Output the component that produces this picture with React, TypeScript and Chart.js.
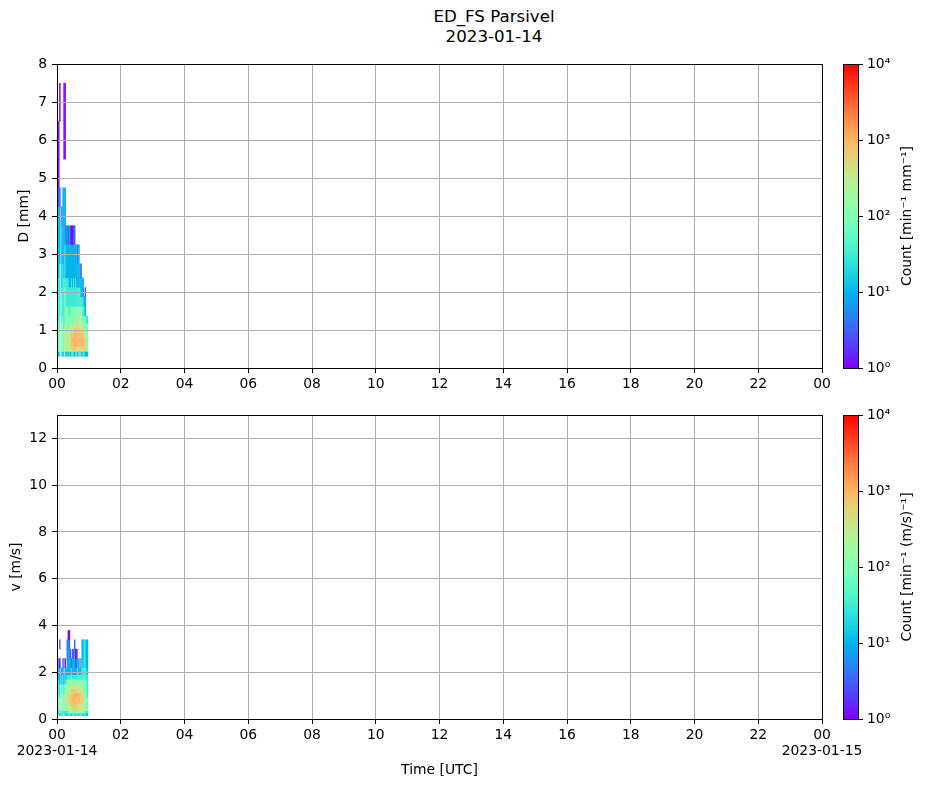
import React, { useEffect, useRef } from 'react';
import { Chart, registerables } from 'chart.js';

Chart.register(...registerables);

const FONT = '"DejaVu Sans", sans-serif';

// ---------- data ----------
const titleLines = ['ED_FS Parsivel', '2023-01-14'];
const hourTicks = [0, 2, 4, 6, 8, 10, 12, 14, 16, 18, 20, 22, 24];
const hourTickLabels = ['00', '02', '04', '06', '08', '10', '12', '14', '16', '18', '20', '22', '00'];
const startDateLabel = '2023-01-14';
const endDateLabel = '2023-01-15';
const diameterTicks = [0, 1, 2, 3, 4, 5, 6, 7, 8];
const velocityTicks = [0, 2, 4, 6, 8, 10, 12];
const colorbarTicks = [1, 10, 100, 1000, 10000];
const colorbarTickLabels = ['10⁰', '10¹', '10²', '10³', '10⁴'];

// time bins (minutes after 00 UTC)
const timeBinEdgesMin = [0, 2, 4, 6, 8, 10, 12, 14, 16, 18, 20, 22, 24, 26, 28, 30, 32, 34, 36, 38, 40, 42, 44, 46, 48, 50, 52, 54, 56, 58];
// Parsivel class edges
const diameterEdgesMm = [0.312, 0.437, 0.562, 0.687, 0.812, 0.937, 1.062, 1.187, 1.375, 1.625, 1.875, 2.125, 2.375, 2.75, 3.25, 3.75, 4.25, 4.75, 5.5, 6.5, 7.5];
const velocityEdgesMs = [0.15, 0.25, 0.35, 0.45, 0.55, 0.65, 0.75, 0.85, 0.95, 1.1, 1.3, 1.5, 1.7, 1.9, 2.2, 2.6, 3.0, 3.4, 3.8];

// estimated count per level code ('.' = no count)
const countLevels: Record<string, number> = { '1': 1, '2': 3, '3': 10, '4': 30, '5': 100, '6': 300, '7': 600, '8': 1000, '9': 2000 };

// one string per time bin, one character per class (lowest class first)
const diameterSpectra = [
  '35555544444333332...',
  '3555555444443333211.',
  '45555555444443332..1',
  '....................',
  '4555555444433332....',
  '35555555444443333...',
  '.5555544444433333.11',
  '46666665555444333.11',
  '366666555444332.....',
  '466666555444333.....',
  '366666555444332.....',
  '466666554443333.....',
  '366666555443332.....',
  '467776655444331.....',
  '477876655443331.....',
  '478887655444332.....',
  '378887655443332.....',
  '47888765544433......',
  '47888877544333......',
  '37888765544332......',
  '47888876544333......',
  '4788876554433.......',
  '4788876654332.......',
  '378876655433........',
  '478887654433........',
  '4777665543..........',
  '37776655332.........',
  '36666554............',
  '35555554............',
];

const velocitySpectra = [
  '34555554444333....',
  '444555555444333...',
  '345555554443331.2.',
  '..................',
  '34455555544332....',
  '446666666554432...',
  '.455555554433.....',
  '346666666554431...',
  '44555666655433....',
  '34555666666543322.',
  '455666666655433331',
  '456667777655433321',
  '4566677776664332..',
  '356677777766542...',
  '4567778877654332..',
  '4577788887654332..',
  '45777888876543332.',
  '3577788887654321..',
  '4577788887654321..',
  '457778888765443...',
  '357778888765433...',
  '45666888876543....',
  '456667777765432...',
  '45666777765544433.',
  '35666777765544333.',
  '45666666655554444.',
  '45666666655544444.',
  '34555555555544333.',
  '34555555444443333.',
];

// ---------- helpers ----------
function rainbow(t: number): string {
  const u = Math.max(0, Math.min(1, t));
  const r = Math.min(1, Math.abs(2 * u - 0.5));
  const g = Math.sin(Math.PI * u);
  const b = Math.cos((Math.PI * u) / 2);
  return `rgb(${Math.round(r * 255)},${Math.round(g * 255)},${Math.round(b * 255)})`;
}
const countColor = (count: number) => rainbow(Math.log10(count) / 4);

function heatmapPlugin(edges: number[], spectra: string[]) {
  return {
    id: 'heatmap',
    beforeDraw(chart: any) {
      const { ctx, chartArea: a } = chart;
      const xs = chart.scales.x;
      const ys = chart.scales.y;
      ctx.save();
      ctx.beginPath();
      ctx.rect(a.left, a.top, a.right - a.left, a.bottom - a.top);
      ctx.clip();
      spectra.forEach((col, c) => {
        const x0 = xs.getPixelForValue(timeBinEdgesMin[c] / 60);
        const x1 = xs.getPixelForValue(timeBinEdgesMin[c + 1] / 60);
        for (let r = 0; r < col.length; r++) {
          const count = countLevels[col[r]];
          if (!count) continue;
          const yb = ys.getPixelForValue(edges[r]);
          const yt = ys.getPixelForValue(edges[r + 1]);
          ctx.fillStyle = countColor(count);
          ctx.fillRect(x0, yt, x1 - x0 + 0.4, yb - yt + 0.4);
        }
      });
      ctx.restore();
    },
  };
}

const spinesPlugin = {
  id: 'spines',
  afterDraw(chart: any) {
    const { ctx, chartArea: a } = chart;
    ctx.save();
    ctx.strokeStyle = '#000';
    ctx.lineWidth = 1;
    ctx.strokeRect(Math.round(a.left) + 0.5, Math.round(a.top) + 0.5, Math.round(a.right - a.left), Math.round(a.bottom - a.top));
    ctx.restore();
  },
};

function colorbarLabelPlugin(text: string, cx: number) {
  return {
    id: 'cbLabel',
    afterDraw(chart: any) {
      const { ctx, chartArea: a } = chart;
      ctx.save();
      ctx.translate(cx, (a.top + a.bottom) / 2);
      ctx.rotate(-Math.PI / 2);
      ctx.textAlign = 'center';
      ctx.textBaseline = 'middle';
      ctx.fillStyle = '#000';
      ctx.font = `13.9px ${FONT}`;
      ctx.fillText(text, 0, 0);
      ctx.restore();
    },
  };
}

interface PanelOpts {
  edges: number[];
  spectra: string[];
  yMax: number;
  yTicks: number[];
  yTitle: string;
  yTitlePad: number;
  padTop: number;
  padBottom: number;
  xHeight: number;
  bottomPanel: boolean;
}

function mainConfig(o: PanelOpts): any {
  return {
    type: 'scatter',
    data: { datasets: [] },
    options: {
      responsive: false,
      animation: false,
      events: [],
      layout: { padding: { top: o.padTop, bottom: o.padBottom, left: 0, right: 48 } },
      plugins: { legend: { display: false }, tooltip: { enabled: false } },
      scales: {
        x: {
          type: 'linear',
          min: 0,
          max: 24,
          afterBuildTicks: (s: any) => {
            s.ticks = hourTicks.map((v) => ({ value: v }));
          },
          afterFit: (s: any) => {
            s.height = o.xHeight;
          },
          ticks: {
            autoSkip: false,
            maxRotation: 0,
            minRotation: 0,
            padding: 3,
            color: '#000',
            font: { family: FONT, size: 13.9, lineHeight: 1.15 },
            callback: (value: number) => {
              const i = hourTicks.indexOf(value);
              const lab = hourTickLabels[i];
              if (o.bottomPanel && i === 0) return [lab, startDateLabel];
              if (o.bottomPanel && i === hourTicks.length - 1) return [lab, endDateLabel];
              return lab;
            },
          },
          grid: { color: '#b0b0b0', lineWidth: 1, tickColor: '#000', tickLength: 5, tickWidth: 1 },
          border: { display: false },
          title: o.bottomPanel
            ? { display: true, text: 'Time [UTC]', color: '#000', font: { family: FONT, size: 13.9 }, padding: { top: 0, bottom: 5 } }
            : { display: false },
        },
        y: {
          type: 'linear',
          min: 0,
          max: o.yMax,
          afterBuildTicks: (s: any) => {
            s.ticks = o.yTicks.map((v) => ({ value: v }));
          },
          afterFit: (s: any) => {
            s.width = 57;
          },
          ticks: {
            padding: 5,
            color: '#000',
            font: { family: FONT, size: 13.9 },
            callback: (value: number) => String(value),
          },
          grid: { color: '#b0b0b0', lineWidth: 1, tickColor: '#000', tickLength: 5, tickWidth: 1 },
          border: { display: false },
          title: { display: true, text: o.yTitle, color: '#000', font: { family: FONT, size: 13.9 }, padding: { top: o.yTitlePad, bottom: 0 } },
        },
      },
    },
    plugins: [heatmapPlugin(o.edges, o.spectra), spinesPlugin],
  };
}

function colorbarConfig(label: string, padTop: number, padBottom: number): any {
  return {
    type: 'bar',
    data: {
      labels: [''],
      datasets: [
        {
          data: [[colorbarTicks[0], colorbarTicks[colorbarTicks.length - 1]]],
          borderWidth: 0,
          categoryPercentage: 1,
          barPercentage: 1,
          backgroundColor: (ctx: any) => {
            const chart = ctx.chart;
            const a = chart.chartArea;
            if (!a) return 'rgba(0,0,0,0)';
            const g = chart.ctx.createLinearGradient(0, a.bottom, 0, a.top);
            for (let i = 0; i <= 40; i++) g.addColorStop(i / 40, rainbow(i / 40));
            return g;
          },
        },
      ],
    },
    options: {
      responsive: false,
      animation: false,
      events: [],
      layout: { padding: { top: padTop, bottom: padBottom, left: 13, right: 0 } },
      plugins: { legend: { display: false }, tooltip: { enabled: false } },
      scales: {
        x: { display: false },
        y: {
          type: 'logarithmic',
          position: 'right',
          min: colorbarTicks[0],
          max: colorbarTicks[colorbarTicks.length - 1],
          afterBuildTicks: (s: any) => {
            s.ticks = colorbarTicks.map((v) => ({ value: v }));
          },
          afterFit: (s: any) => {
            s.width = 69;
          },
          ticks: {
            padding: 4,
            color: '#000',
            font: { family: FONT, size: 13.9 },
            callback: (value: number) => colorbarTickLabels[colorbarTicks.indexOf(value)] ?? '',
          },
          grid: { drawOnChartArea: false, tickColor: '#000', tickLength: 5, tickWidth: 1 },
          border: { display: false },
        },
      },
    },
    plugins: [spinesPlugin, colorbarLabelPlugin(label, 77)],
  };
}

function ChartCanvas({ config, left, top, width, height }: { config: () => any; left: number; top: number; width: number; height: number }) {
  const ref = useRef<HTMLCanvasElement | null>(null);
  useEffect(() => {
    if (!ref.current) return;
    const chart = new Chart(ref.current, config());
    return () => chart.destroy();
  }, []);
  return (
    <canvas
      ref={ref}
      width={width}
      height={height}
      style={{ position: 'absolute', left, top, width, height, display: 'block' }}
    />
  );
}

export default function App() {
  return (
    <div style={{ position: 'absolute', left: 0, top: 0, width: 927, height: 788, background: '#fff', overflow: 'hidden' }}>
      <div
        style={{
          position: 'absolute',
          left: 294,
          top: 7,
          width: 400,
          textAlign: 'center',
          fontFamily: FONT,
          fontSize: '16.67px',
          lineHeight: '19.5px',
          color: '#000',
        }}
      >
        {titleLines.map((t) => (
          <div key={t}>{t}</div>
        ))}
      </div>
      <ChartCanvas
        left={0}
        top={0}
        width={870}
        height={400}
        config={() =>
          mainConfig({
            edges: diameterEdgesMm,
            spectra: diameterSpectra,
            yMax: 8,
            yTicks: diameterTicks,
            yTitle: 'D [mm]',
            yTitlePad: 16,
            padTop: 64,
            padBottom: 0,
            xHeight: 32,
            bottomPanel: false,
          })
        }
      />
      <ChartCanvas
        left={0}
        top={400}
        width={870}
        height={388}
        config={() =>
          mainConfig({
            edges: velocityEdgesMs,
            spectra: velocitySpectra,
            yMax: 13,
            yTicks: velocityTicks,
            yTitle: 'v [m/s]',
            yTitlePad: 8,
            padTop: 15,
            padBottom: 4,
            xHeight: 65,
            bottomPanel: true,
          })
        }
      />
      <ChartCanvas left={830} top={0} width={97} height={400} config={() => colorbarConfig('Count [min⁻¹ mm⁻¹]', 64, 32)} />
      <ChartCanvas left={830} top={400} width={97} height={388} config={() => colorbarConfig('Count [min⁻¹ (m/s)⁻¹]', 15, 69)} />
    </div>
  );
}
